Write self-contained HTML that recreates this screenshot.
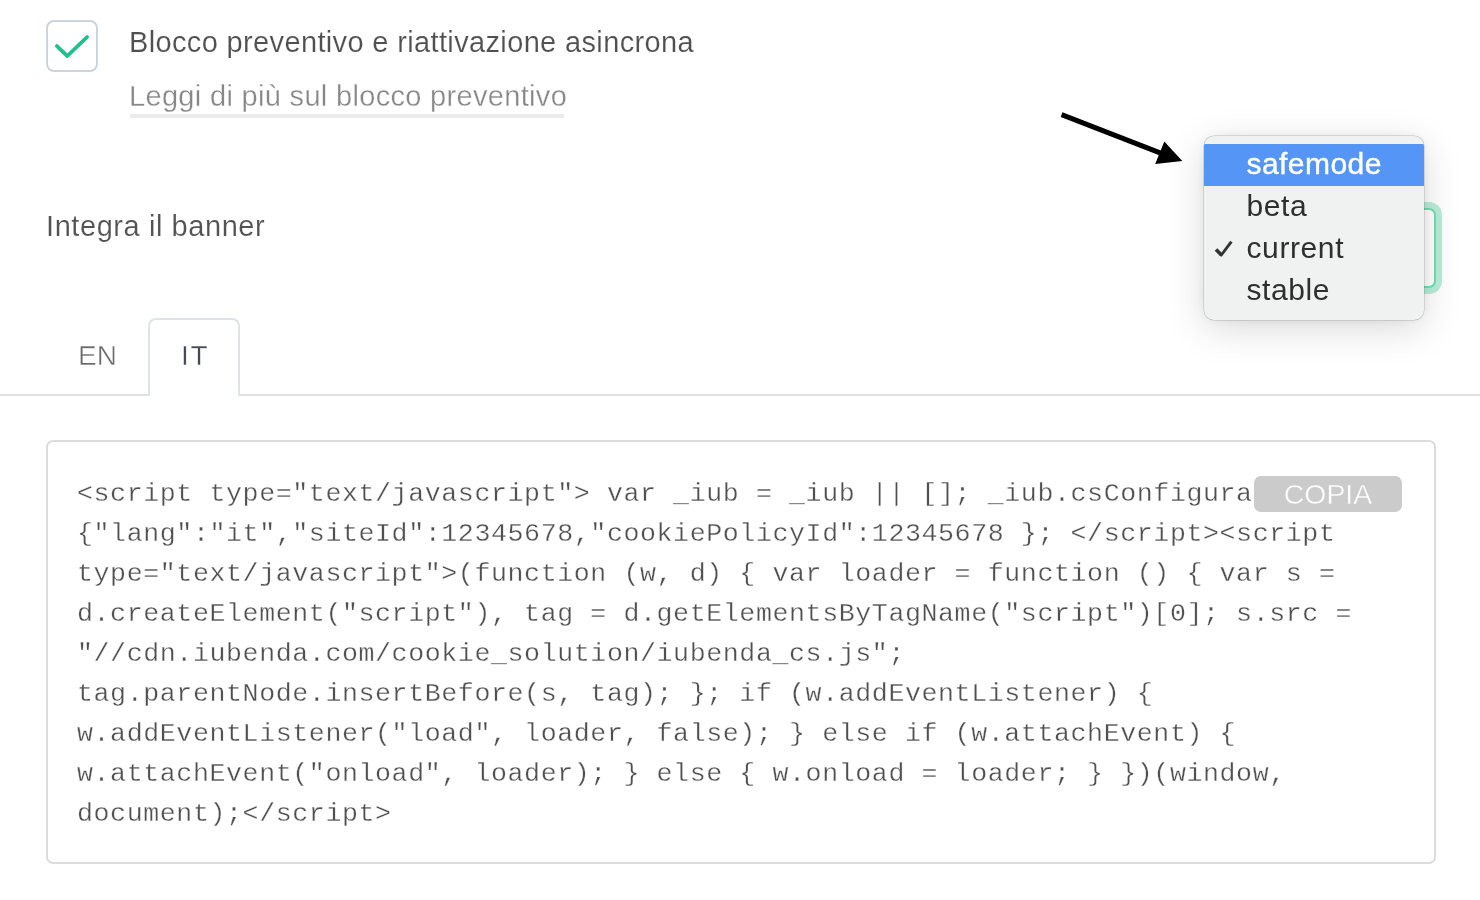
<!DOCTYPE html>
<html lang="it">
<head>
<meta charset="utf-8">
<title>Integra il banner</title>
<style>
  html, body { margin: 0; padding: 0; }
  body {
    width: 1480px; height: 900px; overflow: hidden; position: relative;
    background: #ffffff;
    font-family: "Liberation Sans", sans-serif;
    color: #4d4d4d;
  }
  .abs { position: absolute; white-space: nowrap; }
  .abs, pre.code, .menu, .copy { will-change: transform; }

  /* checkbox */
  .checkbox {
    position: absolute; left: 46px; top: 20px; width: 48px; height: 48px;
    border: 2px solid #cdd4db; border-radius: 8px; background: #fff;
  }
  .checkbox svg { position: absolute; left: -2px; top: -2px; }

  .label-main { left: 129px; top: 24px; font-size: 29px; line-height: 36px; color: #505050; letter-spacing: 0.355px; -webkit-text-stroke: 0.15px #fff; }
  .label-link {
    left: 129px; top: 78px; font-size: 29px; line-height: 36px; color: #878787; letter-spacing: 0.32px; -webkit-text-stroke: 0.3px #fff;
    text-decoration: none;
  }
  .heading { left: 45.5px; top: 208px; font-size: 29px; line-height: 36px; color: #535353; letter-spacing: 0.57px; -webkit-text-stroke: 0.15px #fff; }

  /* select behind the menu */
  .select {
    position: absolute; left: 1260px; top: 208px; width: 172px; height: 76px;
    border: 2px solid #6fe0b5; border-radius: 7px; background: #fff;
    box-shadow: 0 0 0 6px #b8eeda;
  }

  /* native menu */
  .menu {
    position: absolute; left: 1204px; top: 136px; width: 220px; height: 184px;
    background: #f0f1f1; border-radius: 10px;
    box-shadow: 0 0 0 0.5px rgba(0,0,0,0.22), 0 9px 38px rgba(0,0,0,0.15), 0 0 12px rgba(0,0,0,0.06);
    overflow: hidden;
    font-family: "Liberation Sans", sans-serif;
  }
  .menu .item {
    position: absolute; left: 0; width: 100%; height: 42px; line-height: 40px;
    font-size: 30px; color: #2f2f2f; box-sizing: border-box; padding-left: 42.5px; letter-spacing: 0.6px;
    white-space: nowrap;
  }
  .menu .item.sel { background: #5595f5; color: #fff; -webkit-text-stroke: 0.4px #fff; letter-spacing: 0.45px; }
  .menu svg { position: absolute; left: 0; top: 0; }

  /* tabs */
  .tabline { position: absolute; left: 0; top: 394px; width: 1480px; height: 2px; background: #dfe1e5; }
  .tab-en { left: 78px; top: 338px; font-size: 28px; line-height: 36px; color: #6a6a6a; -webkit-text-stroke: 0.45px #fff; }
  .tab-it-box {
    position: absolute; left: 148px; top: 318px; width: 88px; height: 76px;
    border: 2px solid #dfe2e7; border-bottom: none; border-radius: 8px 8px 0 0; background: #fff;
  }
  .tab-it { left: 181px; top: 338px; font-size: 28px; line-height: 36px; color: #444a52; letter-spacing: 1.8px; -webkit-text-stroke: 0.45px #fff; }

  /* code box */
  .codebox {
    position: absolute; left: 46px; top: 440px; width: 1386px; height: 420px;
    border: 2px solid #dcdcdc; border-radius: 7px; background: #fff;
  }
  pre.code {
    position: absolute; left: 77px; top: 474px; margin: 0;
    font-family: "Liberation Mono", monospace; font-size: 26.6px; letter-spacing: 0.6px; line-height: 40px;
    color: #505050; white-space: pre; -webkit-text-stroke: 0.3px #ffffff;
  }
  .copy {
    position: absolute; left: 1254px; top: 476px; width: 148px; height: 36px;
    background: #cbcbcb; border-radius: 7px; color: #fff; text-align: center;
    font-size: 28.4px; line-height: 37px; letter-spacing: 0; -webkit-text-stroke: 0.45px #cbcbcb;
  }
</style>
</head>
<body>

<div class="checkbox">
  <svg width="52" height="52" viewBox="0 0 52 52"><path d="M10.9 26.1 L21.3 36.0 L41.0 17.1" fill="none" stroke="#20c18b" stroke-width="3.8" stroke-linecap="round" stroke-linejoin="round"/></svg>
</div>
<div class="abs label-main">Blocco preventivo e riattivazione asincrona</div>
<a class="abs label-link">Leggi di più sul blocco preventivo</a>

<div class="abs" style="left:130px;top:114px;width:434px;height:4px;background:#ebebeb"></div>

<div class="abs heading">Integra il banner</div>

<!-- arrow -->
<svg class="abs" style="left:1040px;top:100px" width="190" height="80" viewBox="1040 100 190 80">
  <line x1="1061.6" y1="114.6" x2="1162" y2="153.6" stroke="#000" stroke-width="5" stroke-linecap="butt"/>
  <polygon points="1182.3,161.1 1155.2,164.1 1164.3,141.4" fill="#000"/>
</svg>

<div class="select"></div>

<div class="menu">
  <div class="item sel" style="top:8px">safemode</div>
  <div class="item" style="top:50px">beta</div>
  <div class="item" style="top:92px">current</div>
  <div class="item" style="top:134px">stable</div>
  <svg width="60" height="184" viewBox="1204 136 60 184"><path d="M1216.0 249.4 L1221.7 255.3" fill="none" stroke="#333" stroke-width="3.6" stroke-linecap="butt"/><path d="M1220.6 256.0 L1231.4 241.7" fill="none" stroke="#333" stroke-width="2.9" stroke-linecap="butt"/></svg>
</div>

<div class="tabline"></div>
<div class="abs tab-en">EN</div>
<div class="tab-it-box"></div>
<div class="abs tab-it">IT</div>

<div class="codebox"></div>
<pre class="code">&lt;script type="text/javascript"&gt; var _iub = _iub || []; _iub.csConfigura
{"lang":"it","siteId":12345678,"cookiePolicyId":12345678 }; &lt;/script&gt;&lt;script
type="text/javascript"&gt;(function (w, d) { var loader = function () { var s =
d.createElement("script"), tag = d.getElementsByTagName("script")[0]; s.src =
"//cdn.iubenda.com/cookie_solution/iubenda_cs.js";
tag.parentNode.insertBefore(s, tag); }; if (w.addEventListener) {
w.addEventListener("load", loader, false); } else if (w.attachEvent) {
w.attachEvent("onload", loader); } else { w.onload = loader; } })(window,
document);&lt;/script&gt;</pre>
<div class="copy">COPIA</div>

</body>
</html>
